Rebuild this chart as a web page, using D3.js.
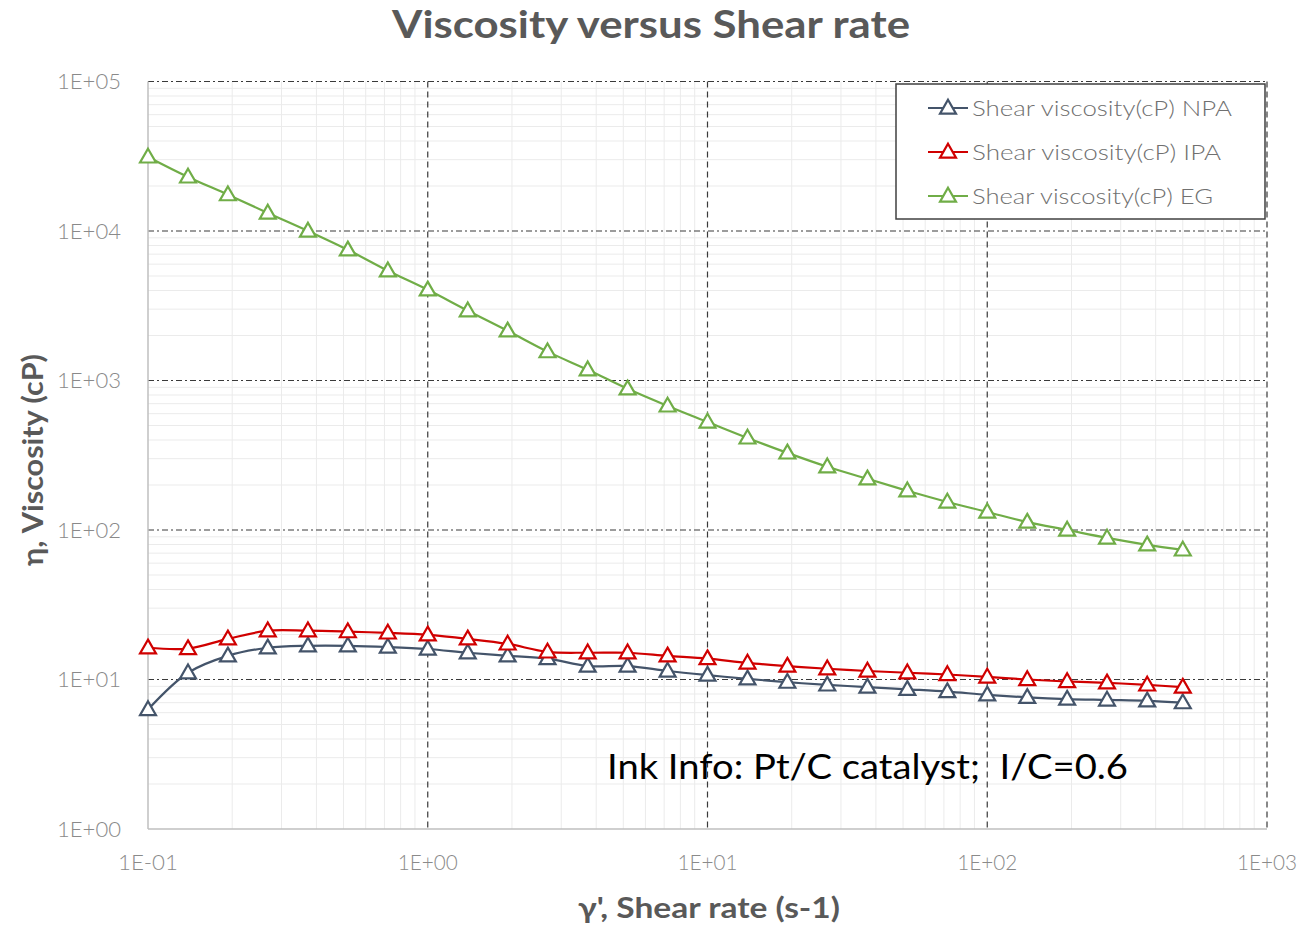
<!DOCTYPE html>
<html>
<head>
<meta charset="utf-8">
<script src="https://cdn.jsdelivr.net/npm/d3@7"></script>
<style>
  body { margin: 0; background: #fff; }
  svg { font-family: Lato, "Open Sans", sans-serif; }
</style>
</head>
<body>
<div id="chart"></div>
<script>
// shear rate (s-1)
var shearRate = [0.1, 0.139, 0.193, 0.268, 0.373, 0.518, 0.720, 1, 1.39, 1.93, 2.68, 3.73, 5.18, 7.20,
                 10, 13.9, 19.3, 26.8, 37.3, 51.8, 72.0, 100, 139, 193, 268, 373, 500];
var viscNPA = [6.3, 11.1, 14.4, 16.3, 16.8, 16.8, 16.5, 16.0, 15.1, 14.4, 13.8, 12.3, 12.3, 11.4,
               10.7, 10.1, 9.6, 9.2, 8.9, 8.6, 8.3, 7.9, 7.6, 7.4, 7.3, 7.2, 7.0];
var viscIPA = [16.3, 16.1, 18.7, 21.2, 21.2, 20.9, 20.5, 19.9, 18.7, 17.3, 15.3, 15.1, 15.1, 14.4,
               13.8, 12.9, 12.3, 11.8, 11.4, 11.1, 10.8, 10.4, 10.0, 9.7, 9.5, 9.2, 8.9];
var viscEG = [31300, 23000, 17500, 13200, 10000, 7480, 5420, 4040, 2930, 2150, 1560, 1180, 880, 676,
              528, 413, 328, 265, 220, 183, 154, 132, 113, 100, 88.5, 79.6, 73.6];
var seriesNames = ["Shear viscosity(cP) NPA", "Shear viscosity(cP) IPA", "Shear viscosity(cP) EG"];
var seriesColors = ["#44546A", "#D00000", "#70AD47"];
var xTicks = [0.1, 1, 10, 100, 1000];
var xTickLabels = ["1E-01", "1E+00", "1E+01", "1E+02", "1E+03"];
var yTicks = [1, 10, 100, 1000, 10000, 100000];
var yTickLabels = ["1E+00", "1E+01", "1E+02", "1E+03", "1E+04", "1E+05"];

var W = 1301, H = 925;
var svg = d3.select("#chart").append("svg")
    .attr("width", W)
    .attr("height", H);

var x = d3.scaleLog().domain([0.1, 1000]).range([148, 1267]);
var y = d3.scaleLog().domain([1, 100000]).range([829, 81.5]);

// minor grid
var gMinor = svg.append("g");
x.ticks().filter(function(d) { return xTicks.indexOf(d) < 0; }).forEach(function(d) {
  gMinor.append("line")
    .attr("x1", x(d)).attr("x2", x(d))
    .attr("y1", y(100000)).attr("y2", y(1))
    .attr("stroke", "#ebebeb").attr("stroke-width", 1);
});
y.ticks().filter(function(d) { return yTicks.indexOf(d) < 0; }).forEach(function(d) {
  gMinor.append("line")
    .attr("x1", x(0.1)).attr("x2", x(1000))
    .attr("y1", y(d)).attr("y2", y(d))
    .attr("stroke", "#ebebeb").attr("stroke-width", 1);
});

// major grid
var gMajor = svg.append("g");
yTicks.slice(1).forEach(function(d) {
  gMajor.append("line")
    .attr("x1", x(0.1)).attr("x2", x(1000))
    .attr("y1", y(d)).attr("y2", y(d))
    .attr("stroke", "#3a3a3a").attr("stroke-width", 1.2)
    .attr("stroke-dasharray", "6,3,2,3");
});
xTicks.slice(1).forEach(function(d) {
  gMajor.append("line")
    .attr("x1", x(d)).attr("x2", x(d))
    .attr("y1", y(100000)).attr("y2", y(1))
    .attr("stroke", "#3a3a3a").attr("stroke-width", 1.2)
    .attr("stroke-dasharray", "6,4");
});

// axis lines
svg.append("line")
  .attr("x1", x(0.1)).attr("x2", x(0.1))
  .attr("y1", y(100000)).attr("y2", y(1))
  .attr("stroke", "#bfbfbf").attr("stroke-width", 1.5);
svg.append("line")
  .attr("x1", x(0.1)).attr("x2", x(1000))
  .attr("y1", y(1)).attr("y2", y(1))
  .attr("stroke", "#bfbfbf").attr("stroke-width", 1.5);

// tick labels
svg.append("g").selectAll("text")
  .data(yTicks)
  .enter().append("text")
    .attr("x", 121)
    .attr("y", function(d) { return y(d); })
    .attr("dy", "0.35em")
    .attr("text-anchor", "end")
    .attr("textLength", 64)
    .attr("lengthAdjust", "spacingAndGlyphs")
    .style("font-size", "22px")
    .style("font-weight", "300")
    .style("fill", "#8a8a8a")
    .text(function(d, i) { return yTickLabels[i]; });
svg.append("g").selectAll("text")
  .data(xTicks)
  .enter().append("text")
    .attr("x", function(d) { return x(d); })
    .attr("y", 870)
    .attr("text-anchor", "middle")
    .attr("textLength", 60)
    .attr("lengthAdjust", "spacingAndGlyphs")
    .style("font-size", "22px")
    .style("font-weight", "300")
    .style("fill", "#8a8a8a")
    .text(function(d, i) { return xTickLabels[i]; });

// series
var series = [viscNPA, viscIPA, viscEG];
var line = d3.line()
  .x(function(d, i) { return x(shearRate[i]); })
  .y(function(d) { return y(d); })
  .curve(d3.curveCatmullRom.alpha(0.5));
var tri = d3.symbol().type(d3.symbolTriangle).size(110);

series.forEach(function(vals, s) {
  svg.append("path")
    .datum(vals)
    .attr("fill", "none")
    .attr("stroke", seriesColors[s])
    .attr("stroke-width", 2.2)
    .attr("d", line);
  svg.append("g").selectAll("path")
    .data(vals)
    .enter().append("path")
      .attr("transform", function(d, i) { return "translate(" + x(shearRate[i]) + "," + (y(d) + 1) + ")"; })
      .attr("d", tri)
      .attr("fill", "#fff")
      .attr("stroke", seriesColors[s])
      .attr("stroke-width", 2.2);
});

// legend
var legendWidths = [260, 249, 241];
var legend = svg.append("g").attr("transform", "translate(896,84)");
legend.append("rect")
  .attr("width", 369).attr("height", 135)
  .attr("fill", "#fff")
  .attr("stroke", "#404040").attr("stroke-width", 1.5);
seriesNames.forEach(function(name, s) {
  var ly = 24 + s * 44;
  legend.append("line")
    .attr("x1", 32).attr("x2", 72).attr("y1", ly).attr("y2", ly)
    .attr("stroke", seriesColors[s]).attr("stroke-width", 2.2);
  legend.append("path")
    .attr("transform", "translate(52," + (ly + 1) + ")")
    .attr("d", tri)
    .attr("fill", "#fff")
    .attr("stroke", seriesColors[s]).attr("stroke-width", 2.2);
  legend.append("text")
    .attr("x", 76).attr("y", ly).attr("dy", "0.35em")
    .attr("textLength", legendWidths[s])
    .attr("lengthAdjust", "spacingAndGlyphs")
    .style("font-size", "22px")
    .style("font-weight", "300")
    .style("fill", "#707070")
    .text(name);
});

// title and axis titles
svg.append("text")
  .attr("x", 651).attr("y", 38)
  .attr("text-anchor", "middle")
  .attr("textLength", 518)
  .attr("lengthAdjust", "spacingAndGlyphs")
  .style("font-size", "38px").style("font-weight", "bold")
  .style("fill", "#595959")
  .text("Viscosity versus Shear rate");
svg.append("text")
  .attr("x", 709).attr("y", 918)
  .attr("text-anchor", "middle")
  .attr("textLength", 262)
  .attr("lengthAdjust", "spacingAndGlyphs")
  .style("font-size", "29px").style("font-weight", "bold")
  .style("fill", "#595959")
  .text("γ', Shear rate (s-1)");
svg.append("text")
  .attr("transform", "translate(43,460) rotate(-90)")
  .attr("text-anchor", "middle")
  .attr("textLength", 212)
  .attr("lengthAdjust", "spacingAndGlyphs")
  .style("font-size", "28px").style("font-weight", "bold")
  .style("fill", "#595959")
  .text("η, Viscosity (cP)");

// annotation
svg.append("text")
  .attr("x", 607).attr("y", 779)
  .attr("textLength", 521)
  .attr("lengthAdjust", "spacingAndGlyphs")
  .style("font-size", "35px")
  .style("fill", "#000")
  .attr("xml:space", "preserve")
  .text("Ink Info: Pt/C catalyst;  I/C=0.6");
</script>
</body>
</html>
